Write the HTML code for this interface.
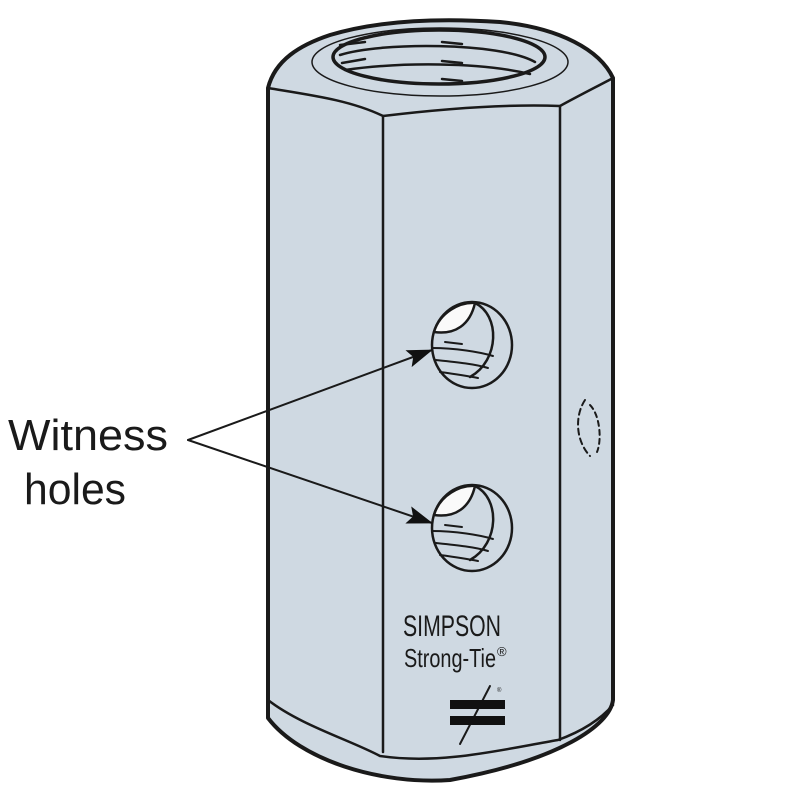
<!DOCTYPE html>
<html><head><style>
html,body{margin:0;padding:0;background:#fff;}
svg{display:block;}
text{font-family:"Liberation Sans",sans-serif;fill:#1a1a1a;}
</style></head><body>
<svg width="800" height="800" viewBox="0 0 800 800" xmlns="http://www.w3.org/2000/svg">
<defs>
<marker id="ah" markerWidth="26" markerHeight="18" refX="25" refY="9" orient="auto" markerUnits="userSpaceOnUse">
<path d="M0,0 L26,9 L0,18 L5,9 Z" fill="#111"/>
</marker>
</defs>
<g stroke="#1a1a1a" fill="none" stroke-linecap="round" stroke-linejoin="round">
<path d="M268,88 C275,60 300,45 330,35 C380,20 440,18 500,22 C560,28 600,50 613,78 L613,700 C610,725 560,760 450,780 C380,785 300,760 268,718 Z" fill="#cfd9e2" stroke-width="4"/>
<path d="M268,88 C310,95 350,100 383,116 C450,108 510,104 560,106 C580,95 600,85 613,78" stroke-width="2.5"/>
<line x1="383" y1="116" x2="383" y2="752" stroke-width="2.5"/>
<line x1="560" y1="106" x2="560" y2="740" stroke-width="2.5"/>
<path d="M268,700 C300,725 350,740 380,756 C440,765 500,750 558,740 C580,732 600,720 613,705" stroke-width="2.5"/>
<ellipse cx="440" cy="62" rx="128" ry="34" stroke-width="1.5"/>
<ellipse cx="439" cy="57" rx="106" ry="27" stroke-width="3.5" fill="#cfd9e2"/>
<path d="M340,55 C380,42 500,42 535,62" stroke-width="2.5"/>
<path d="M345,70 C400,62 480,62 530,74" stroke-width="2.5"/>
<path d="M442,42 L462,44 M442,61 L462,63 M442,79 L462,81 M340,45 L365,42 M342,63 L365,59" stroke-width="2.5"/>
<g>
<ellipse cx="472" cy="345" rx="40" ry="43" fill="#cfd9e2" stroke-width="2.5"/>
<path d="M434,332 C440,312 460,302 475,303 C470,325 455,335 434,332 Z" fill="#fafafa" stroke-width="2.5"/>
<path d="M475,303 C500,315 500,360 470,377" stroke-width="2.5"/>
<path d="M432,348 C455,348 480,352 493,356 M436,360 C455,362 475,364 488,368 M440,372 C455,374 468,376 478,378 M445,342 L462,344" stroke-width="2"/>
</g>
<g>
<ellipse cx="472" cy="528" rx="40" ry="43" fill="#cfd9e2" stroke-width="2.5"/>
<path d="M434,515 C440,495 460,485 475,486 C470,508 455,518 434,515 Z" fill="#fafafa" stroke-width="2.5"/>
<path d="M475,486 C500,498 500,543 470,560" stroke-width="2.5"/>
<path d="M432,531 C455,531 480,535 493,539 M436,543 C455,545 475,547 488,551 M440,555 C455,557 468,559 478,561 M445,525 L462,527" stroke-width="2"/>
</g>
<path d="M585,400 C575,415 575,440 590,456" stroke-width="2" stroke-dasharray="6,4"/>
<path d="M590,405 C600,415 602,440 597,452" stroke-width="2" stroke-dasharray="5,4"/>
<line x1="188" y1="440" x2="432" y2="350" stroke-width="2" marker-end="url(#ah)"/>
<line x1="188" y1="440" x2="432" y2="523" stroke-width="2" marker-end="url(#ah)"/>
<line x1="460" y1="744" x2="490" y2="686" stroke-width="2"/>
</g>
<rect x="450" y="700" width="55" height="9" fill="#111"/>
<rect x="450" y="716" width="55" height="9" fill="#111"/>
<text x="497" y="692" font-size="6">®</text>
<text x="8" y="450" font-size="44" textLength="160" lengthAdjust="spacingAndGlyphs">Witness</text>
<text x="24" y="504" font-size="44" textLength="102" lengthAdjust="spacingAndGlyphs">holes</text>
<text x="403" y="636" font-size="30" textLength="98" lengthAdjust="spacingAndGlyphs">SIMPSON</text>
<text x="404" y="667" font-size="26" textLength="92" lengthAdjust="spacingAndGlyphs">Strong-Tie</text>
<text x="497" y="656" font-size="13">®</text>
</svg>
</body></html>
